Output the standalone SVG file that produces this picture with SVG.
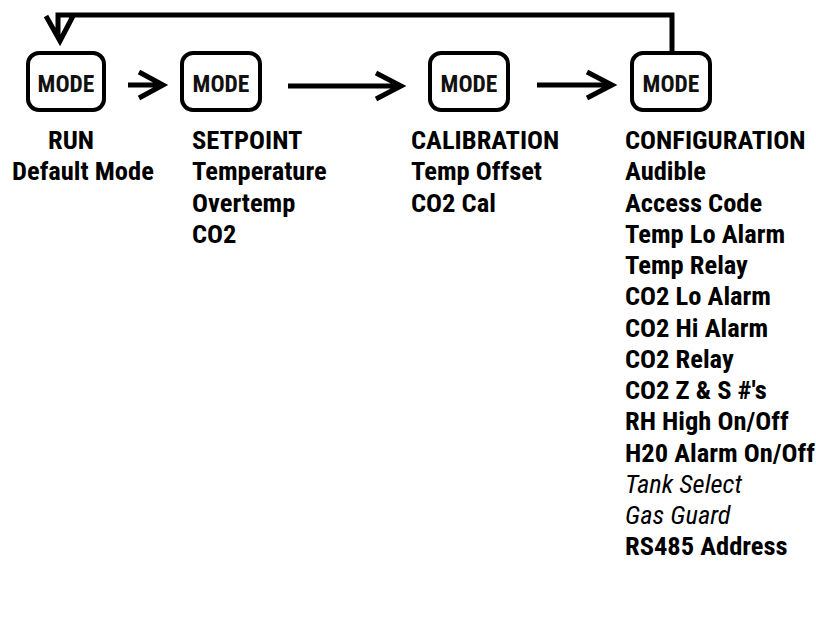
<svg xmlns="http://www.w3.org/2000/svg" width="816" height="617" viewBox="0 0 816 617">
<style>
.box{fill:#fff;stroke:#000;stroke-width:4}
.mode{font-family:"Liberation Sans Narrow","Roboto Condensed","Liberation Sans",sans-serif;font-weight:bold;font-size:23.5px;text-anchor:middle;fill:#111}
.t{font-family:"Liberation Sans Narrow","Roboto Condensed","Liberation Sans",sans-serif;font-weight:bold;font-size:26.5px;fill:#000}
.i{font-weight:normal;font-style:italic}
.ln{fill:none;stroke:#000;stroke-width:5;stroke-linejoin:miter}
</style>
<rect width="816" height="617" fill="#fff"/>
<g id="connectors">
<path class="ln" d="M128,85 H162 M139,72 L163,85 L139,98"/>
<path class="ln" d="M288,86 H400 M376,73 L401,86 L376,99"/>
<path class="ln" d="M537,85 H611 M587,72 L612,85 L587,98"/>
<path class="ln" d="M672,51 V15 H58 V38 M46,16 L60,41 L73,16"/>
</g>
<g id="node-run">
<rect class="box" x="28" y="53" width="76" height="57" rx="11"/>
<text class="mode" x="66" y="92">MODE</text>
<text class="t" x="71" y="149" text-anchor="middle">RUN</text>
<text class="t" x="12" y="180">Default Mode</text>
</g>
<g id="node-setpoint">
<rect class="box" x="182" y="53" width="78" height="57" rx="11"/>
<text class="mode" x="221" y="92">MODE</text>
<text class="t" x="192" y="149">SETPOINT</text>
<text class="t" x="192" y="180">Temperature</text>
<text class="t" x="192" y="212">Overtemp</text>
<text class="t" x="192" y="243">CO2</text>
</g>
<g id="node-calibration">
<rect class="box" x="430" y="53" width="78" height="57" rx="11"/>
<text class="mode" x="469" y="92">MODE</text>
<text class="t" x="411" y="149">CALIBRATION</text>
<text class="t" x="411" y="180">Temp Offset</text>
<text class="t" x="411" y="212">CO2 Cal</text>
</g>
<g id="node-configuration">
<rect class="box" x="632" y="53" width="78" height="57" rx="11"/>
<text class="mode" x="671" y="92">MODE</text>
<text class="t" x="625" y="149">CONFIGURATION</text>
<text class="t" x="625" y="180">Audible</text>
<text class="t" x="625" y="212">Access Code</text>
<text class="t" x="625" y="243">Temp Lo Alarm</text>
<text class="t" x="625" y="274">Temp Relay</text>
<text class="t" x="625" y="305">CO2 Lo Alarm</text>
<text class="t" x="625" y="337">CO2 Hi Alarm</text>
<text class="t" x="625" y="368">CO2 Relay</text>
<text class="t" x="625" y="399">CO2 Z &amp; S #'s</text>
<text class="t" x="625" y="430">RH High On/Off</text>
<text class="t" x="625" y="462">H20 Alarm On/Off</text>
<text class="t i" x="625" y="493">Tank Select</text>
<text class="t i" x="625" y="524">Gas Guard</text>
<text class="t" x="625" y="555">RS485 Address</text>
</g>
</svg>
